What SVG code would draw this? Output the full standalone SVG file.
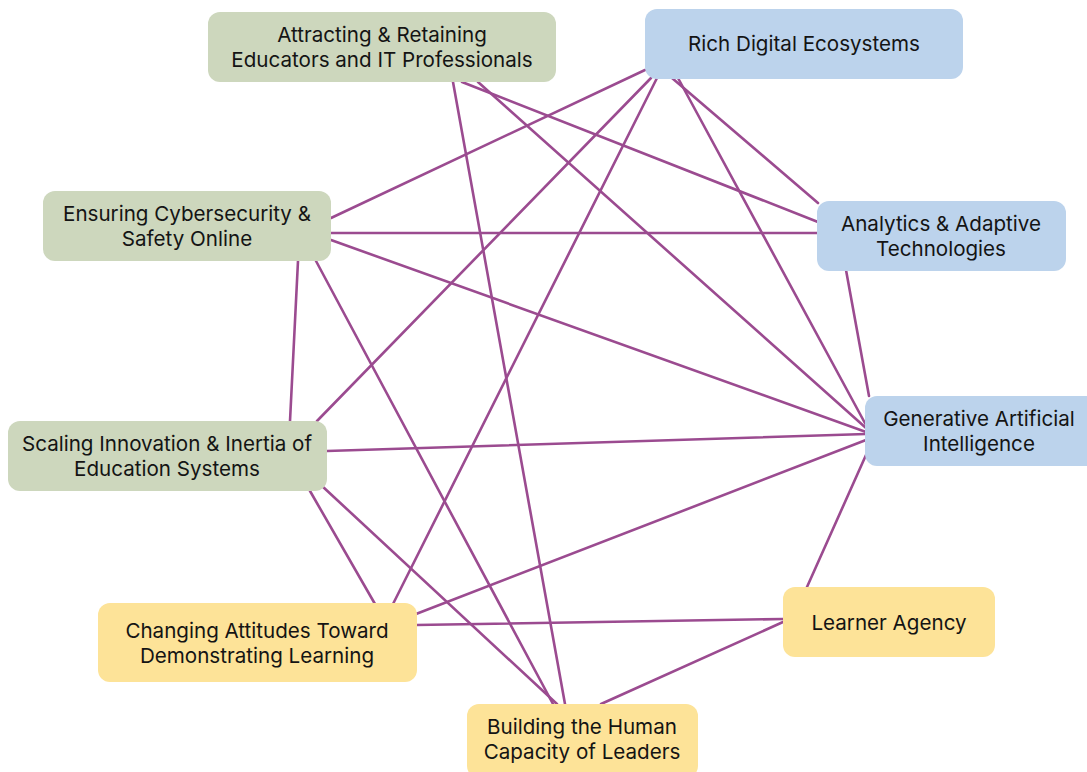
<svg xmlns="http://www.w3.org/2000/svg" width="1087" height="772" viewBox="0 0 1087 772">
  <style>
    .edge { stroke: #9b4b90; stroke-width: 2.6; fill: none; stroke-linecap: round; }
    .green { fill: #cdd7bd; }
    .blue { fill: #bcd3ec; }
    .yellow { fill: #fde398; }
    text { font-family: Inter, "DejaVu Sans", sans-serif; font-size: 20.6px; fill: #141414; text-anchor: middle; }
  </style>
  <rect width="1087" height="772" fill="#ffffff"/>

  <g id="connectors">
    <line class="edge" x1="453" y1="82" x2="565" y2="704"/>
    <line class="edge" x1="462" y1="82" x2="818" y2="222"/>
    <line class="edge" x1="478" y1="82" x2="866" y2="428"/>
    <line class="edge" x1="645" y1="70" x2="331" y2="218"/>
    <line class="edge" x1="651" y1="78" x2="317" y2="421"/>
    <line class="edge" x1="657" y1="78" x2="393" y2="604"/>
    <line class="edge" x1="672" y1="78" x2="818" y2="203"/>
    <line class="edge" x1="678" y1="78" x2="866" y2="425"/>
    <line class="edge" x1="331" y1="233" x2="817" y2="233"/>
    <line class="edge" x1="331" y1="240" x2="866" y2="432"/>
    <line class="edge" x1="298" y1="261" x2="290" y2="421"/>
    <line class="edge" x1="316" y1="261" x2="553" y2="704"/>
    <line class="edge" x1="846" y1="270" x2="869" y2="396"/>
    <line class="edge" x1="327" y1="451" x2="866" y2="434"/>
    <line class="edge" x1="416" y1="614" x2="866" y2="440"/>
    <line class="edge" x1="866" y1="455" x2="807" y2="587"/>
    <line class="edge" x1="310" y1="491" x2="375" y2="604"/>
    <line class="edge" x1="322" y1="486" x2="557" y2="704"/>
    <line class="edge" x1="416" y1="625" x2="783" y2="619"/>
    <line class="edge" x1="783" y1="622" x2="601" y2="704"/>
  </g>

  <g id="attracting">
    <rect class="green" x="208" y="12" width="348" height="70" rx="12"/>
    <text x="382" y="42">Attracting &amp; Retaining</text>
    <text x="382" y="67">Educators and IT Professionals</text>
  </g>
  <g id="rich-digital">
    <rect class="blue" x="645" y="9" width="318" height="70" rx="12"/>
    <text x="804" y="51">Rich Digital Ecosystems</text>
  </g>
  <g id="cybersecurity">
    <rect class="green" x="43" y="191" width="288" height="70" rx="12"/>
    <text x="187" y="221">Ensuring Cybersecurity &amp;</text>
    <text x="187" y="246">Safety Online</text>
  </g>
  <g id="analytics">
    <rect class="blue" x="817" y="201" width="249" height="70" rx="12"/>
    <text x="941" y="231">Analytics &amp; Adaptive</text>
    <text x="941" y="256">Technologies</text>
  </g>
  <g id="generative-ai">
    <rect class="blue" x="865" y="396" width="235" height="70" rx="12"/>
    <text x="979" y="426">Generative Artificial</text>
    <text x="979" y="451">Intelligence</text>
  </g>
  <g id="scaling">
    <rect class="green" x="8" y="421" width="319" height="70" rx="12"/>
    <text x="167" y="451">Scaling Innovation &amp; Inertia of</text>
    <text x="167" y="476">Education Systems</text>
  </g>
  <g id="changing-attitudes">
    <rect class="yellow" x="98" y="603" width="319" height="79" rx="12"/>
    <text x="257" y="638">Changing Attitudes Toward</text>
    <text x="257" y="663">Demonstrating Learning</text>
  </g>
  <g id="learner-agency">
    <rect class="yellow" x="783" y="587" width="212" height="70" rx="12"/>
    <text x="889" y="630">Learner Agency</text>
  </g>
  <g id="human-capacity">
    <rect class="yellow" x="467" y="704" width="231" height="74" rx="12"/>
    <text x="582" y="734">Building the Human</text>
    <text x="582" y="759">Capacity of Leaders</text>
  </g>
</svg>
